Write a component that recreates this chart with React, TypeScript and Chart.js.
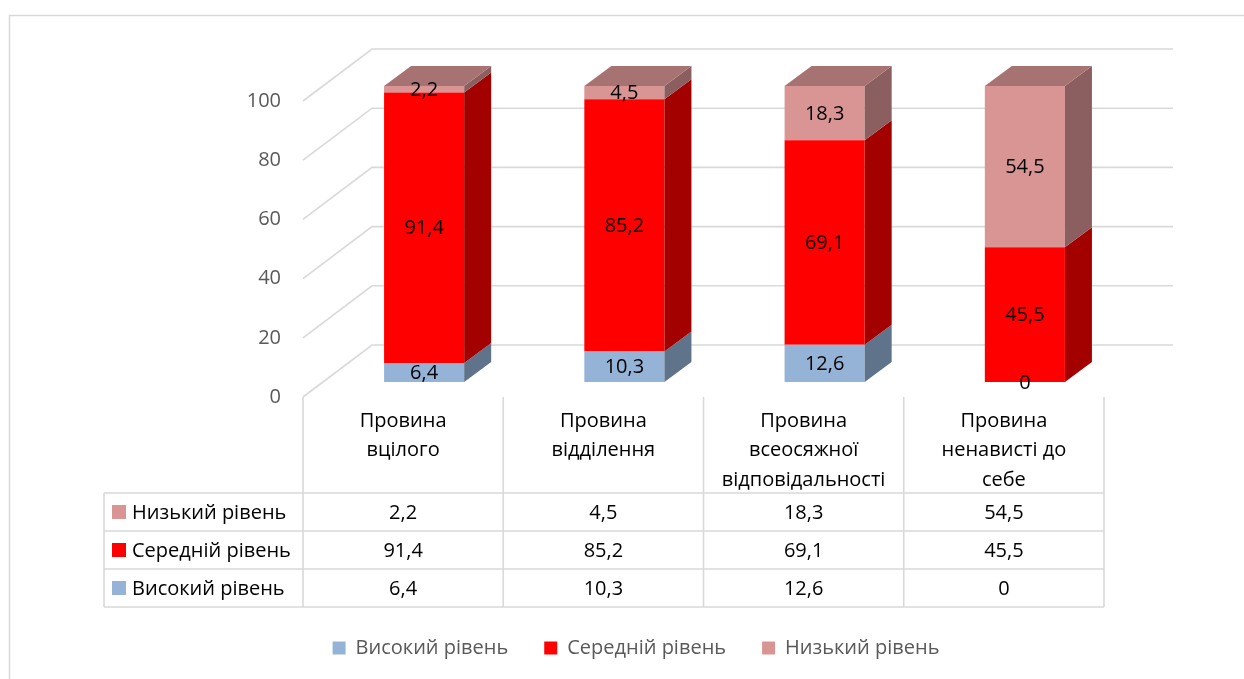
import React, { useEffect, useRef } from "react";
import { Chart, registerables } from "chart.js";

Chart.register(...registerables);

// ---- data ----
const categories: string[][] = [
  ["Провина", "вцілого"],
  ["Провина", "відділення"],
  ["Провина", "всеосяжної", "відповідальності"],
  ["Провина", "ненависті до", "себе"],
];
const seriesNames = ["Високий рівень", "Середній рівень", "Низький рівень"];
const highValues = [6.4, 10.3, 12.6, 0];
const midValues = [91.4, 85.2, 69.1, 45.5];
const lowValues = [2.2, 4.5, 18.3, 54.5];
const yMin = 0;
const yMax = 100;
const yStep = 20;

// ---- style ----
const FONT = '"Open Sans", "Noto Sans", sans-serif';
const COLORS = ["#95B3D7", "#FF0000", "#D99594"];
const GRID = "#d9d9d9";
const AXIS_TEXT = "#595959";
const WALL_FRONT = { dx: -21, dy: 15 };
const WALL_BACK = { dx: 48, dy: -37 };
const BAR_DEPTH = { dx: 27, dy: -20 };
const TABLE_LEFT = 104;
const TABLE_HEADER_BOTTOM = 493;
const ROW_H = 38;

function shade(hex: string, f: number) {
  const n = parseInt(hex.slice(1), 16);
  const r = Math.round(((n >> 16) & 255) * f);
  const g = Math.round(((n >> 8) & 255) * f);
  const b = Math.round((n & 255) * f);
  return `rgb(${r},${g},${b})`;
}
const fmt = (v: number) => String(v).replace(".", ",");

const threeDPlugin = {
  id: "threeD",
  beforeDraw(chart: any) {
    const { ctx, width, height } = chart;
    ctx.save();
    ctx.fillStyle = "#ffffff";
    ctx.fillRect(0, 0, width, height);
    ctx.strokeStyle = GRID;
    ctx.lineWidth = 1.5;
    ctx.strokeRect(9.5, 15.5, width + 20, height + 20);
    ctx.restore();
  },
  beforeDatasetsDraw(chart: any) {
    const { ctx, chartArea, scales } = chart;
    const y = scales.y;
    const fx = chartArea.left + WALL_FRONT.dx;
    const bx = chartArea.left + WALL_BACK.dx;
    const rx = chartArea.right + WALL_BACK.dx;
    ctx.save();
    ctx.strokeStyle = GRID;
    ctx.lineWidth = 1.6;
    for (const t of y.ticks) {
      const p = y.getPixelForValue(t.value);
      ctx.beginPath();
      ctx.moveTo(fx, p + WALL_FRONT.dy);
      ctx.lineTo(bx, p + WALL_BACK.dy);
      ctx.lineTo(rx, p + WALL_BACK.dy);
      ctx.stroke();
    }
    ctx.restore();
  },
  afterDatasetsDraw(chart: any) {
    const { ctx } = chart;
    const nDs = chart.data.datasets.length;
    ctx.save();
    // side faces
    for (let d = 0; d < nDs; d++) {
      const meta = chart.getDatasetMeta(d);
      const col = COLORS[d];
      meta.data.forEach((el: any) => {
        const top = Math.min(el.y, el.base);
        const bot = Math.max(el.y, el.base);
        if (bot - top < 0.5) return;
        const xr = el.x + el.width / 2;
        ctx.fillStyle = shade(col, 0.64);
        ctx.beginPath();
        ctx.moveTo(xr, top);
        ctx.lineTo(xr + BAR_DEPTH.dx, top + BAR_DEPTH.dy);
        ctx.lineTo(xr + BAR_DEPTH.dx, bot + BAR_DEPTH.dy);
        ctx.lineTo(xr, bot);
        ctx.closePath();
        ctx.fill();
      });
    }
    // top faces
    const nCat = chart.data.labels.length;
    for (let i = 0; i < nCat; i++) {
      let topD = -1;
      for (let d = 0; d < nDs; d++) {
        if ((chart.data.datasets[d].data[i] as number) > 0) topD = d;
      }
      if (topD < 0) continue;
      const el: any = chart.getDatasetMeta(topD).data[i];
      const xl = el.x - el.width / 2;
      const xr = el.x + el.width / 2;
      const top = Math.min(el.y, el.base);
      ctx.fillStyle = shade(COLORS[topD], 0.77);
      ctx.beginPath();
      ctx.moveTo(xl, top);
      ctx.lineTo(xl + BAR_DEPTH.dx, top + BAR_DEPTH.dy);
      ctx.lineTo(xr + BAR_DEPTH.dx, top + BAR_DEPTH.dy);
      ctx.lineTo(xr, top);
      ctx.closePath();
      ctx.fill();
    }
    // data labels
    ctx.fillStyle = "#000000";
    ctx.font = `20px ${FONT}`;
    ctx.textAlign = "center";
    ctx.textBaseline = "middle";
    for (let d = 0; d < nDs; d++) {
      const meta = chart.getDatasetMeta(d);
      meta.data.forEach((el: any, i: number) => {
        const v = chart.data.datasets[d].data[i] as number;
        ctx.fillText(fmt(v), el.x, (el.y + el.base) / 2 + 1);
      });
    }
    ctx.restore();
  },
  afterDraw(chart: any) {
    const { ctx, scales } = chart;
    const x = scales.x;
    const y = scales.y;
    const half = (x.getPixelForValue(1) - x.getPixelForValue(0)) / 2;
    const nCat = chart.data.labels.length;
    const centers: number[] = [];
    for (let i = 0; i < nCat; i++) centers.push(x.getPixelForValue(i) + WALL_FRONT.dx);
    const colLeft = centers[0] - half;
    const right = centers[nCat - 1] + half;
    const headerTop = y.getPixelForValue(0) + WALL_FRONT.dy;
    const nRows = chart.data.datasets.length;
    const bottom = TABLE_HEADER_BOTTOM + nRows * ROW_H;
    ctx.save();
    ctx.strokeStyle = GRID;
    ctx.lineWidth = 1.6;
    ctx.beginPath();
    for (let i = 0; i <= nCat; i++) {
      const bx = colLeft + i * 2 * half;
      ctx.moveTo(bx, headerTop);
      ctx.lineTo(bx, bottom);
    }
    ctx.moveTo(TABLE_LEFT, TABLE_HEADER_BOTTOM);
    ctx.lineTo(TABLE_LEFT, bottom);
    for (let r = 0; r <= nRows; r++) {
      const ry = TABLE_HEADER_BOTTOM + r * ROW_H;
      ctx.moveTo(TABLE_LEFT, ry);
      ctx.lineTo(right, ry);
    }
    ctx.stroke();

    // header labels
    ctx.fillStyle = "#000000";
    ctx.font = `20px ${FONT}`;
    ctx.textAlign = "center";
    ctx.textBaseline = "middle";
    chart.data.labels.forEach((lab: string[], i: number) => {
      lab.forEach((line: string, k: number) => {
        ctx.fillText(line, centers[i], 421 + k * 29.5);
      });
    });

    // rows (reverse order of datasets)
    for (let r = 0; r < nRows; r++) {
      const d = nRows - 1 - r;
      const ds = chart.data.datasets[d];
      const cy = TABLE_HEADER_BOTTOM + r * ROW_H + ROW_H / 2;
      ctx.fillStyle = COLORS[d];
      ctx.fillRect(112, cy - 7, 14, 14);
      ctx.fillStyle = "#000000";
      ctx.textAlign = "left";
      ctx.fillText(ds.label, 132, cy + 1);
      ctx.textAlign = "center";
      ds.data.forEach((v: number, i: number) => {
        ctx.fillText(fmt(v), centers[i], cy + 1);
      });
    }
    ctx.restore();
  },
};

export default function App() {
  const ref = useRef<HTMLCanvasElement | null>(null);
  useEffect(() => {
    if (!ref.current) return;
    const chart = new Chart(ref.current, {
      type: "bar",
      data: {
        labels: categories as any,
        datasets: [
          { label: seriesNames[0], data: highValues, backgroundColor: COLORS[0] },
          { label: seriesNames[1], data: midValues, backgroundColor: COLORS[1] },
          { label: seriesNames[2], data: lowValues, backgroundColor: COLORS[2] },
        ],
      },
      options: {
        responsive: false,
        animation: false,
        events: [],
        layout: { padding: { top: 86, left: 147, right: 119, bottom: 11 } },
        datasets: { bar: { barPercentage: 0.4, categoryPercentage: 1, borderWidth: 0 } },
        scales: {
          x: {
            stacked: true,
            ticks: { display: false },
            grid: { display: false, drawTicks: false },
            border: { display: false },
            afterFit: (s: any) => {
              s.height = 220;
            },
          },
          y: {
            stacked: true,
            min: yMin,
            max: yMax,
            ticks: {
              stepSize: yStep,
              padding: 43,
              labelOffset: 15,
              color: AXIS_TEXT,
              font: { family: FONT, size: 20 },
            },
            grid: { display: false, drawTicks: false },
            border: { display: false },
            afterFit: (s: any) => {
              s.width = 177;
            },
          },
        },
        plugins: {
          legend: {
            position: "bottom",
            labels: {
              boxWidth: 13,
              boxHeight: 13,
              padding: 36,
              color: AXIS_TEXT,
              font: { family: FONT, size: 20 },
            },
          },
          tooltip: { enabled: false },
        },
      },
      plugins: [threeDPlugin],
    });
    return () => chart.destroy();
  }, []);
  return (
    <div style={{ position: "fixed", left: 0, top: 0, width: 1244, height: 679 }}>
      <canvas ref={ref} width={1244} height={679} style={{ display: "block" }} />
    </div>
  );
}
